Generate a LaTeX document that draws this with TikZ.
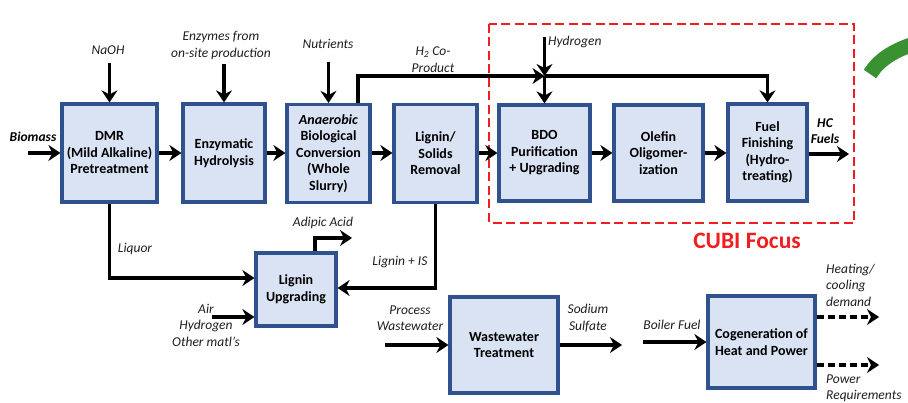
\documentclass[tikz,border=0pt]{standalone}
\usepackage{fontspec}
\setmainfont{Carlito}
\usetikzlibrary{arrows.meta,calc}

\definecolor{boxfill}{HTML}{DAE3F3}
\definecolor{boxblue}{HTML}{2F528F}
\definecolor{focusred}{HTML}{F01E1E}
\definecolor{leafgreen}{HTML}{3A9132}
\definecolor{labelgray}{HTML}{1E1E1E}

\tikzset{
  box/.style={draw=boxblue, fill=boxfill, line width=3.2pt, align=center,
    font=\bfseries\fontsize{14}{16.5}\selectfont, inner sep=2pt},
  lbl/.style={font=\itshape\fontsize{13.5}{16.5}\selectfont, align=center,
    text=labelgray, inner sep=0pt},
  blbl/.style={lbl, font=\bfseries\itshape\fontsize{13.5}{16.5}\selectfont, text=black},
  flow/.style={line width=3.2pt, -{Stealth[length=12pt,width=16pt,inset=4pt]}},
  dflow/.style={flow, dash pattern=on 7pt off 4pt}
}

\begin{document}
\begin{tikzpicture}[x=1pt,y=-1pt]
\useasboundingbox (0,0) rectangle (908,403);

% green decoration arc at the right edge
\draw[leafgreen, line width=15pt] (870,74) .. controls (878,61) and (892,51) .. (914,44);

% CUBI focus frame
\draw[focusred, line width=2.6pt, dash pattern=on 9pt off 4.5pt] (489,24) rectangle (854,223);
\node[text=focusred, font=\bfseries\fontsize{23.5}{26}\selectfont] (cubi) at (747,241) {CUBI Focus};

% main process row
\node[box, minimum width=95pt, minimum height=98pt] (dmr) at (109.5,153) {DMR\\(Mild Alkaline)\\Pretreatment};
\node[box, minimum width=82pt, minimum height=98pt] (enz) at (224,153) {Enzymatic\\Hydrolysis};
\node[box, minimum width=83pt, minimum height=98pt] (an) at (328.5,153.5) {\textit{Anaerobic}\\Biological\\Conversion\\(Whole\\Slurry)};
\node[box, minimum width=83pt, minimum height=98pt] (lig) at (435.5,153.5) {Lignin/\\Solids\\Removal};
\node[box, minimum width=91pt, minimum height=96pt] (bdo) at (544.5,153) {BDO\\Purification\\+ Upgrading};
\node[box, minimum width=89pt, minimum height=96pt] (ole) at (658.5,153) {Olefin\\Oligomer-\\ization};
\node[box, minimum width=79pt, minimum height=97pt] (fuel) at (767.5,152.5) {Fuel\\Finishing\\(Hydro-\\treating)};

% lower units
\node[box, minimum width=80pt, minimum height=73pt] (lu) at (296,289.5) {Lignin\\Upgrading};
\node[box, minimum width=108pt, minimum height=96pt] (wwt) at (504,345) {Wastewater\\Treatment};
\node[box, minimum width=107pt, minimum height=92pt] (cg) at (761.5,342) {Cogeneration of\\Heat and Power};

% stream labels
\node[blbl] (biomass) at (33,137) {Biomass};
\node[lbl] (naoh) at (108,50) {NaOH};
\node[lbl] (enzlbl) at (221,45.5) {Enzymes from\\on-site production};
\node[lbl] (nutr) at (328,44) {Nutrients};
\node[lbl] (h2lbl) at (433,59.5) {H\textsubscript{2} Co-\\Product};
\node[lbl, anchor=west] (hylbl) at (548,42) {Hydrogen};
\node[blbl] (hc) at (825,131) {HC\\Fuels};
\node[lbl] (liq) at (135,249) {Liquor};
\node[lbl] (adlbl) at (323,223) {Adipic Acid};
\node[lbl] (lislbl) at (400,262) {Lignin + IS};
\node[lbl] (airlbl) at (206,325) {Air\\Hydrogen\\Other matl's};
\node[lbl] (pwlbl) at (410,318) {Process\\Wastewater};
\node[lbl] (sslbl) at (588,318) {Sodium\\Sulfate};
\node[lbl] (bflbl) at (672,325) {Boiler Fuel};
\node[lbl, anchor=west, align=left] (heatlbl) at (826,285) {Heating/\\cooling\\demand};
\node[lbl, anchor=west, align=left] (powlbl) at (826,388.5) {Power\\Requirements};

% free ends of connectors
\coordinate (bioin) at (28,153);
\coordinate (naohin) at (109.5,63);
\coordinate (enzin) at (224,64);
\coordinate (nutin) at (328.5,62);
\coordinate (hyin) at (544.5,37);
\coordinate (hj) at (544.5,76);
\coordinate (hcout) at (849,154);
\coordinate (adout) at (352,238);
\coordinate (airin) at (212,317);
\coordinate (pwin) at (385,345);
\coordinate (ssout) at (622,345);
\coordinate (bfin) at (643,342);
\coordinate (heatout) at (879,317);
\coordinate (powout) at (879,365);
\coordinate (row) at (0,153);

% main row flows
\draw[flow] (bioin) -- (dmr.west |- bioin);
\draw[flow] (naohin) -- (dmr.north);
\draw[flow] (enzin) -- (enz.north);
\draw[flow] (nutin) -- (an.north);
\draw[flow] (dmr.east |- row) -- (enz.west |- row);
\draw[flow] (enz.east |- row) -- (an.west |- row);
\draw[flow] (an.east |- row) -- (lig.west |- row);
\draw[flow] (lig.east |- row) -- (bdo.west |- row);
\draw[flow] (bdo.east |- row) -- (ole.west |- row);
\draw[flow] (ole.east |- row) -- (fuel.west |- row);
\draw[flow] (fuel.east |- hcout) -- (hcout);

% hydrogen co-product and make-up hydrogen
\draw[flow] ([xshift=29.5pt]an.north) |- (hj);
\draw[flow] (hj) -| (fuel.north);
\draw[flow] (hyin) -- (hj);
\draw[flow] (hj) -- (bdo.north);

% lignin side streams
\draw[flow] (dmr.south) |- ([yshift=11.5pt]lu.west);
\draw[flow] (lig.south) |- ([yshift=1.5pt]lu.east);
\draw[flow] ([xshift=19pt]lu.north) |- (adout);
\draw[flow] (airin) -- ([yshift=-27.5pt]lu.west);

% utilities
\draw[flow] (pwin) -- (wwt.west);
\draw[flow] (wwt.east) -- (ssout);
\draw[flow] (bfin) -- (cg.west);
\draw[dflow] (cg.east |- heatout) -- (heatout);
\draw[dflow] (cg.east |- powout) -- (powout);
\end{tikzpicture}
\end{document}
